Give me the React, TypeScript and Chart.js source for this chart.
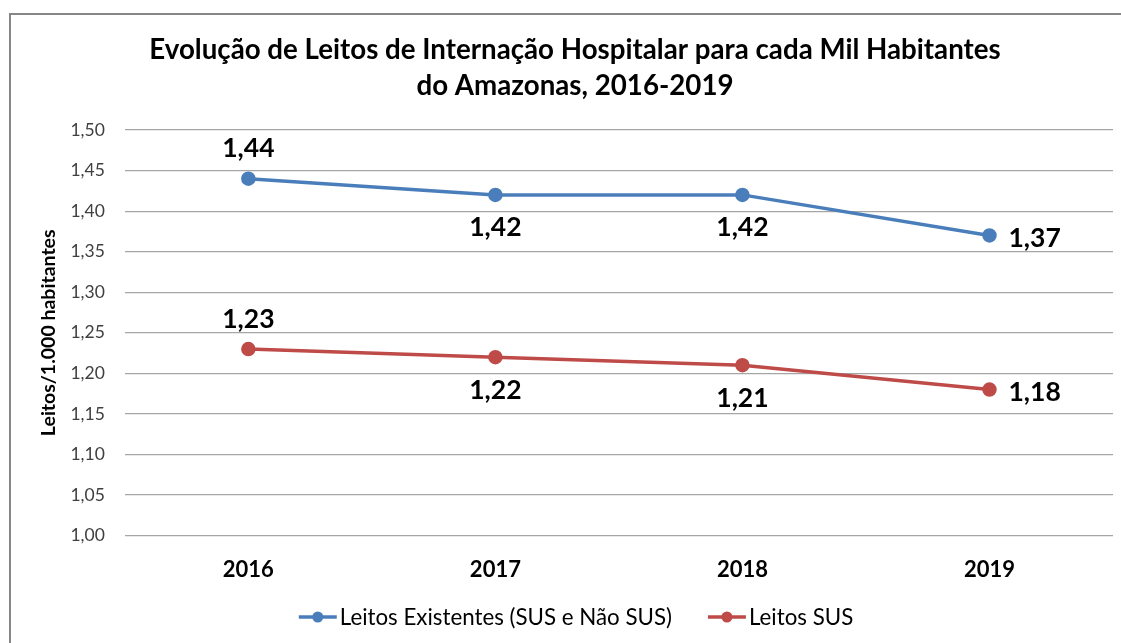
import React, { useEffect, useRef } from "react";
import { Chart, registerables } from "chart.js";

Chart.register(...registerables);

const categories = ["2016", "2017", "2018", "2019"];
const existentes = [1.44, 1.42, 1.42, 1.37];
const sus = [1.23, 1.22, 1.21, 1.18];
const seriesNames = ["Leitos Existentes (SUS e Não SUS)", "Leitos SUS"];
const titleLines = [
  "Evolução de Leitos de Internação Hospitalar para cada Mil Habitantes",
  "do Amazonas, 2016-2019",
];
const yAxisTitle = "Leitos/1.000 habitantes";
const labelPlacementExistentes = ["top", "bottom", "bottom", "right"];
const labelPlacementSus = ["top", "bottom", "bottom", "right"];

const BLUE = "#4a7ebb";
const RED = "#be4b48";
const FONT = "Lato, 'Open Sans', sans-serif";

const fmt = (v: number) => v.toFixed(2).replace(".", ",");

export default function App() {
  const ref = useRef<HTMLCanvasElement | null>(null);

  useEffect(() => {
    const canvas = ref.current;
    if (!canvas) return;

    const framePlugin = {
      id: "frame",
      beforeDraw(chart: any) {
        const ctx = chart.ctx;
        ctx.save();
        ctx.fillStyle = "#ffffff";
        ctx.fillRect(0, 0, chart.width, chart.height);
        ctx.strokeStyle = "#878787";
        ctx.lineWidth = 2;
        ctx.strokeRect(10, 14, chart.width - 12, chart.height + 20);
        ctx.restore();
      },
    };

    const labelsPlugin = {
      id: "pointLabels",
      afterDatasetsDraw(chart: any) {
        const ctx = chart.ctx;
        ctx.save();
        ctx.font = `bold 26.5px ${FONT}`;
        ctx.fillStyle = "#000000";
        ctx.textBaseline = "middle";
        chart.data.datasets.forEach((ds: any, di: number) => {
          const meta = chart.getDatasetMeta(di);
          const placement = di === 0 ? labelPlacementExistentes : labelPlacementSus;
          meta.data.forEach((pt: any, i: number) => {
            const text = fmt(ds.data[i]);
            const pos = placement[i];
            let x = pt.x;
            let y = pt.y;
            if (pos === "top") {
              ctx.textAlign = "center";
              y -= 30;
            } else if (pos === "bottom") {
              ctx.textAlign = "center";
              y += 33;
            } else {
              ctx.textAlign = "left";
              x += 19;
              y += 3;
            }
            ctx.fillText(text, x, y);
          });
        });
        ctx.restore();
      },
    };

    const legendPlugin = {
      id: "customLegend",
      afterDraw(chart: any) {
        const ctx = chart.ctx;
        ctx.save();
        ctx.font = `22.3px ${FONT}`;
        ctx.textBaseline = "middle";
        ctx.textAlign = "left";
        const colors = [BLUE, RED];
        const markerW = 38;
        const gap = 3;
        const itemGap = 36;
        const widths = seriesNames.map((n) => markerW + gap + ctx.measureText(n).width);
        const total = widths.reduce((a, b) => a + b, 0) + itemGap;
        let x = 576 - total / 2;
        const y = 617;
        seriesNames.forEach((n, i) => {
          ctx.strokeStyle = colors[i];
          ctx.lineWidth = 3.5;
          ctx.beginPath();
          ctx.moveTo(x, y);
          ctx.lineTo(x + markerW, y);
          ctx.stroke();
          ctx.fillStyle = colors[i];
          ctx.beginPath();
          ctx.arc(x + markerW / 2, y, 5.5, 0, Math.PI * 2);
          ctx.fill();
          ctx.fillStyle = "#000000";
          ctx.fillText(n, x + markerW + gap, y + 1);
          x += widths[i] + itemGap;
        });
        ctx.restore();
      },
    };

    const chart = new Chart(canvas, {
      type: "line",
      data: {
        labels: categories,
        datasets: [
          {
            label: seriesNames[0],
            data: existentes,
            borderColor: BLUE,
            backgroundColor: BLUE,
            borderWidth: 3.5,
            pointRadius: 5.5,
            pointBackgroundColor: BLUE,
            pointBorderColor: BLUE,
            tension: 0,
          },
          {
            label: seriesNames[1],
            data: sus,
            borderColor: RED,
            backgroundColor: RED,
            borderWidth: 3.5,
            pointRadius: 5.5,
            pointBackgroundColor: RED,
            pointBorderColor: RED,
            tension: 0,
          },
        ],
      },
      options: {
        responsive: false,
        animation: false,
        layout: { padding: { left: 37, right: 29, top: 14, bottom: 39 } },
        plugins: {
          legend: { display: false },
          tooltip: { enabled: false },
          title: {
            display: true,
            text: titleLines,
            color: "#000000",
            font: { family: FONT, size: 27.7, weight: "bold", lineHeight: 36 / 27.7 },
            padding: { top: 18, bottom: 26 },
          },
        },
        scales: {
          x: {
            offset: true,
            grid: { display: false, drawTicks: false },
            border: { display: false },
            ticks: {
              color: "#000000",
              padding: 21,
              font: { family: FONT, size: 22, weight: "bold" },
            },
          },
          y: {
            min: 1.0,
            max: 1.5,
            grid: { color: "#a6a6a6", lineWidth: 1.2, drawTicks: false },
            border: { display: false },
            ticks: {
              stepSize: 0.05,
              color: "#404040",
              padding: 20,
              font: { family: FONT, size: 17.5 },
              callback: (v: any) => fmt(Number(v)),
            },
            title: {
              display: true,
              text: yAxisTitle,
              color: "#000000",
              font: { family: FONT, size: 19.5, weight: "bold" },
              padding: { top: 0, bottom: -10 },
            },
          },
        },
      },
      plugins: [framePlugin, labelsPlugin, legendPlugin],
    });

    return () => chart.destroy();
  }, []);

  return (
    <div
      style={{
        position: "fixed",
        left: 0,
        top: 0,
        width: 1121,
        height: 643,
        overflow: "hidden",
        background: "#ffffff",
      }}
    >
      <canvas ref={ref} width={1142} height={643} style={{ display: "block" }} />
    </div>
  );
}
